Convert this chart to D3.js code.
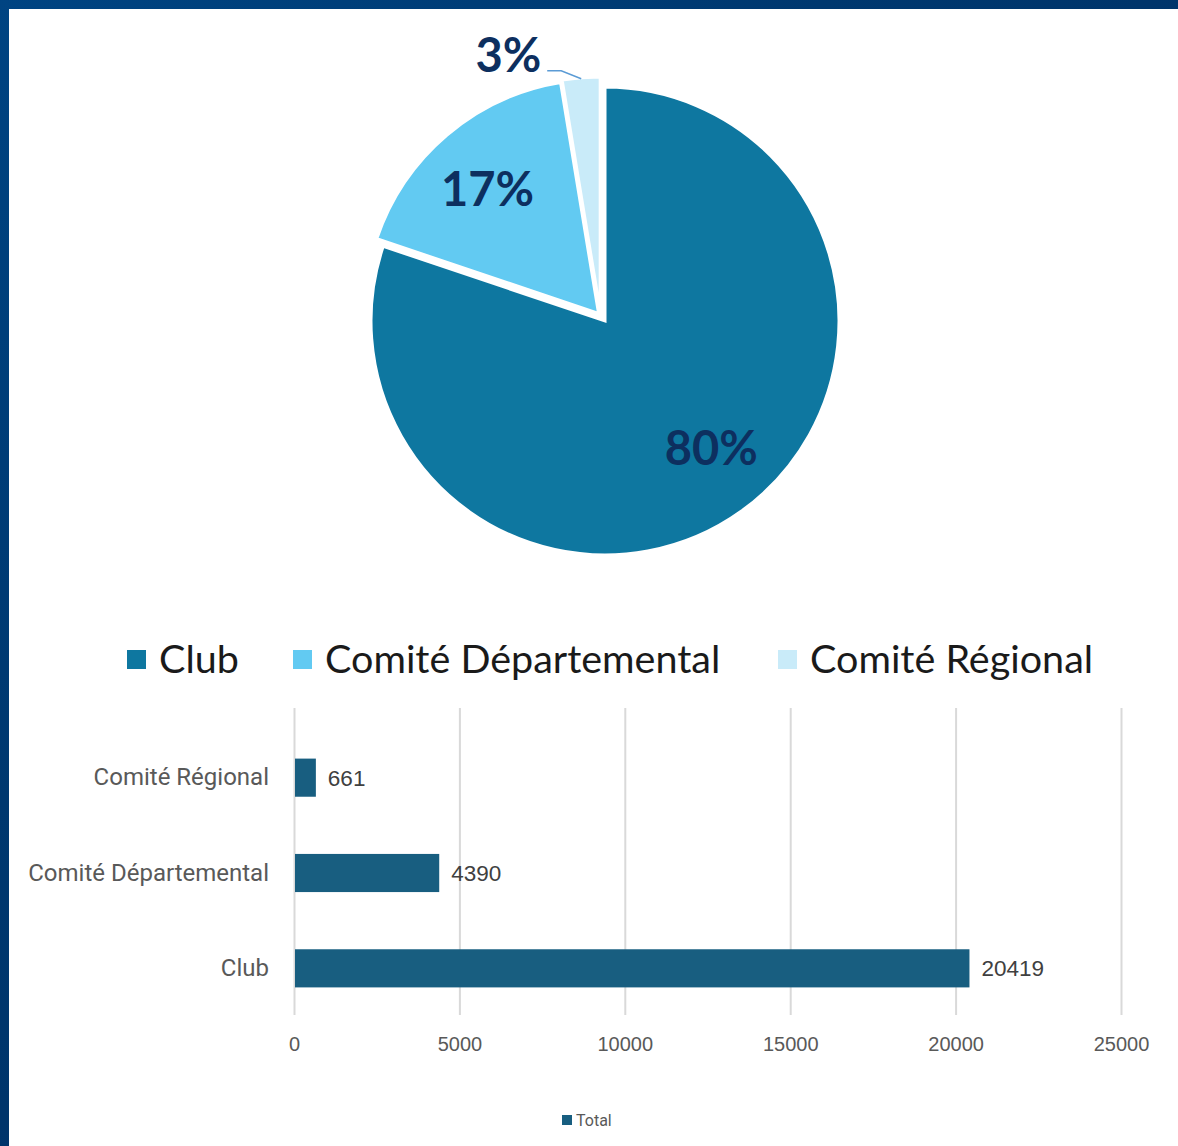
<!DOCTYPE html>
<html>
<head>
<meta charset="UTF-8">
<script src="https://d3js.org/d3.v7.min.js"></script>
<title>Répartition</title>
<style>
  body{margin:0;background:#fff;}
  .grid line{stroke:#d9d9d9;stroke-width:2;}
  .grid .domain{display:none;}
  .xaxis .domain, .xaxis line{display:none;}
  .xaxis text{font-family:"Liberation Sans",Arial,sans-serif;font-size:20px;fill:#595959;}
  .yaxis .domain, .yaxis line{display:none;}
  .yaxis text{font-family:Roboto,"Liberation Sans",sans-serif;font-size:24px;fill:#595959;}
</style>
</head>
<body>
<div id="container"></div>
<script>
var categories=["Club","Comité Départemental","Comité Régional"]
var values=[20419,4390,661]
var pieColors=["#0e77a0","#62caf2","#c9ebf9"]
var xTicks=[0,5000,10000,15000,20000,25000]
var barColor="#185e80"
var seriesName="Total"

var width=1178,height=1146
var svg=d3.select('#container').append('svg')
  .attr('width',width).attr('height',height)

// cadre bleu en haut et a gauche
var defs=svg.append('defs')
var grad=defs.append('linearGradient').attr('id','bord')
  .attr('x1','0').attr('y1','0').attr('x2','1').attr('y2','1')
grad.append('stop').attr('offset','0%').attr('stop-color','#004482')
grad.append('stop').attr('offset','35%').attr('stop-color','#00386f')
grad.append('stop').attr('offset','100%').attr('stop-color','#002a5c')
svg.append('rect').attr('width',width).attr('height',height).attr('fill','url(#bord)')
svg.append('rect').attr('x',9).attr('y',9).attr('width',width-9).attr('height',height-9).attr('fill','#fff')

// ---- camembert ----
var cx=605,cy=321,r=234
var total=d3.sum(values)
var pie=d3.pie().sort(null)(values)
var arc=d3.arc().innerRadius(0).outerRadius(r)
var labelArc=d3.arc().innerRadius(r*0.72).outerRadius(r*0.72)
var explode=[0,10,10]
var pctFmt=d3.format(".0%")

var gp=svg.append('g').attr('transform',"translate("+cx+","+cy+")")
function offset(d,i,k){
  var a=(d.startAngle+d.endAngle)/2
  return [Math.sin(a)*k,-Math.cos(a)*k]
}
gp.selectAll('path').data(pie).enter().append('path')
  .attr('d',arc)
  .attr('transform',function(d,i){var o=offset(d,i,explode[i]);return "translate("+(o[0]-(i==2?4:0))+","+o[1]+")"})
  .attr('fill',function(d,i){return pieColors[i]})
  .attr('stroke','#fff').attr('stroke-width',3)

pie.forEach(function(d,i){
  var pct=pctFmt(d.value/total)
  if(i<2){
    var c=labelArc.centroid(d), o=offset(d,i,explode[i])
    var nx=(i==0?8:-2), ny=(i==0?-10:4)
    gp.append('text').text(pct)
      .attr('x',c[0]+o[0]+nx).attr('y',c[1]+o[1]+ny)
      .attr('text-anchor','middle').attr('dy','0.36em')
      .attr('font-family','Lato, sans-serif').attr('font-weight','bold')
      .attr('font-size',47).attr('fill','#0d2f5f')
  }else{
    // petite part : etiquette dehors avec trait
    var o2=offset(d,i,r+explode[i]-1)
    o2[0]-=4
    var p2=[o2[0]-20,o2[1]-8], p3=[p2[0]-14,p2[1]]
    gp.append('polyline').attr('points',[o2,p2,p3].map(String).join(' '))
      .attr('fill','none').attr('stroke','#5b9bd5').attr('stroke-width',1.5)
    gp.append('text').text(pct)
      .attr('x',p3[0]-6).attr('y',p3[1])
      .attr('text-anchor','end').attr('dy','0.02em')
      .attr('font-family','Lato, sans-serif').attr('font-weight','bold')
      .attr('font-size',47).attr('fill','#0d2f5f')
  }
})

// legende du camembert
var legX=[127,293,778]
var gl=svg.append('g')
categories.forEach(function(c,i){
  gl.append('rect').attr('x',legX[i]).attr('y',650).attr('width',19).attr('height',19).attr('fill',pieColors[i])
  gl.append('text').text(c).attr('x',legX[i]+32).attr('y',659).attr('dy','0.36em')
    .attr('font-family','Lato, sans-serif').attr('font-size',39.5).attr('fill','#1a1a1a')
})

// ---- barres ----
var x=d3.scaleLinear().domain([0,25000]).range([294,1121])
var barCats=categories.slice().reverse()
var barVals=values.slice().reverse()
var y=d3.scaleBand().domain(barCats).range([730,1016]).paddingInner(0.6).paddingOuter(0.3)

svg.append('g').attr('class','grid')
  .attr('transform',"translate(0,1015)")
  .call(d3.axisBottom(x).tickValues(xTicks).tickSize(-307).tickFormat(''))

svg.append('g').attr('class','xaxis')
  .attr('transform',"translate(0,1034)")
  .call(d3.axisBottom(x).tickValues(xTicks).tickSize(0).tickFormat(d3.format("d")))

svg.append('g').attr('class','yaxis')
  .attr('transform',"translate(269,0)")
  .call(d3.axisLeft(y).tickSize(0).tickPadding(0))

svg.append('g').selectAll('rect').data(barVals).enter().append('rect')
  .attr('x',x(0)+1)
  .attr('y',function(d,i){return y(barCats[i])})
  .attr('width',function(d){return x(d)-x(0)-1})
  .attr('height',y.bandwidth())
  .attr('fill',barColor)

svg.append('g').selectAll('text').data(barVals).enter().append('text')
  .text(function(d){return d})
  .attr('x',function(d){return x(d)+12})
  .attr('y',function(d,i){return y(barCats[i])+y.bandwidth()/2})
  .attr('dy','0.36em')
  .attr('font-family','"Liberation Sans", Arial, sans-serif').attr('font-size',22.5)
  .attr('fill','#404040')

// legende Total
svg.append('rect').attr('x',562).attr('y',1115).attr('width',10).attr('height',10).attr('fill',barColor)
svg.append('text').text(seriesName).attr('x',576).attr('y',1120).attr('dy','0.36em')
  .attr('font-family','Roboto, sans-serif').attr('font-size',16).attr('fill','#595959')
</script>
</body>
</html>
